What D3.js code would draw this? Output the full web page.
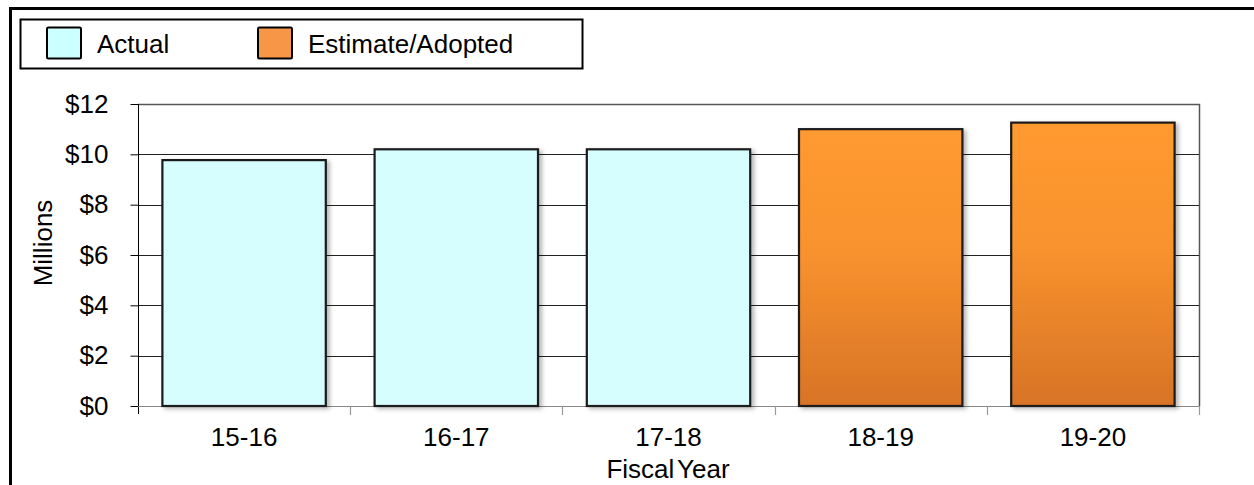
<!DOCTYPE html>
<html>
<head>
<meta charset="utf-8">
<script src="https://cdn.jsdelivr.net/npm/d3@7"></script>
<style>
  html, body { margin: 0; padding: 0; background: #fff; }
  svg { display: block; font-family: "Liberation Sans", Arial, sans-serif; }
</style>
</head>
<body>
<svg id="chart" width="1254" height="485"></svg>
<script>
// Fiscal-year totals, in millions of dollars
const years = ["15-16", "16-17", "17-18", "18-19", "19-20"];
const amounts = [9.77, 10.2, 10.2, 11.0, 11.26];
const kinds = ["Actual", "Actual", "Actual", "Estimate", "Estimate"];
const yTicks = [0, 2, 4, 6, 8, 10, 12];
const legendLabels = ["Actual", "Estimate/Adopted"];

const FONT = 26;
const svg = d3.select("#chart");
const W = 1254, H = 485;
const plot = { left: 138, right: 1199, top: 104, bottom: 406 };

const defs = svg.append("defs");
const grad = defs.append("linearGradient")
  .attr("id", "orangeFill").attr("x1", 0).attr("y1", 0).attr("x2", 0).attr("y2", 1);
grad.append("stop").attr("offset", "0%").attr("stop-color", "#FF9A30");
grad.append("stop").attr("offset", "45%").attr("stop-color", "#F8922E");
grad.append("stop").attr("offset", "100%").attr("stop-color", "#D77326");

const shadow = defs.append("filter").attr("id", "barShadow")
  .attr("x", "-10%").attr("y", "-10%").attr("width", "130%").attr("height", "130%");
shadow.append("feDropShadow").attr("dx", 3).attr("dy", 2).attr("stdDeviation", 2)
  .attr("flood-color", "#000").attr("flood-opacity", 0.28);

// Outer frame (top and left edges)
svg.append("line").attr("x1", 9).attr("x2", W).attr("y1", 8.5).attr("y2", 8.5)
  .attr("stroke", "#000").attr("stroke-width", 3);
svg.append("line").attr("x1", 10.5).attr("x2", 10.5).attr("y1", 7).attr("y2", H)
  .attr("stroke", "#000").attr("stroke-width", 3);

const x = d3.scaleBand().domain(years).range([plot.left, plot.right]).paddingInner(0.23).paddingOuter(0.115);
const y = d3.scaleLinear().domain([0, 12]).range([plot.bottom, plot.top]);

// Plot border (top/right)
svg.append("path")
  .attr("d", `M${plot.left},${plot.top + 0.5}H${plot.right + 0.5}V${plot.bottom}`)
  .attr("fill", "none").attr("stroke", "#555").attr("stroke-width", 1.5);

// Horizontal gridlines
svg.append("g").selectAll("line").data(yTicks.filter(d => d > 0 && d < 12)).join("line")
  .attr("x1", plot.left).attr("x2", plot.right)
  .attr("y1", d => Math.round(y(d)) + 0.5).attr("y2", d => Math.round(y(d)) + 0.5)
  .attr("stroke", "#222").attr("stroke-width", 1);

// Y axis
const yAxis = svg.append("g").attr("transform", `translate(${plot.left + 0.5},0)`)
  .call(d3.axisLeft(y).tickValues(yTicks).tickSize(8).tickPadding(22).tickFormat(d => "$" + d));
yAxis.select(".domain").attr("stroke", "#000").attr("d", `M0,${plot.top}V${plot.bottom + 8}`);
yAxis.selectAll(".tick line").attr("stroke", "#000");
yAxis.selectAll(".tick text").attr("font-size", FONT).attr("fill", "#000")
  .attr("font-family", "Liberation Sans, Arial, sans-serif");

// X axis with ticks at band boundaries
const bounds = years.map((d, i) => plot.left + i * (plot.right - plot.left) / years.length)
  .concat([plot.right]);
svg.append("line").attr("x1", plot.left).attr("x2", plot.right + 0.5)
  .attr("y1", plot.bottom + 0.5).attr("y2", plot.bottom + 0.5)
  .attr("stroke", "#888").attr("stroke-width", 1.2);
svg.append("g").selectAll("line").data(bounds.slice(1)).join("line")
  .attr("x1", d => Math.round(d) + 0.5).attr("x2", d => Math.round(d) + 0.5)
  .attr("y1", plot.bottom).attr("y2", plot.bottom + 9)
  .attr("stroke", "#999").attr("stroke-width", 1.2);

svg.append("g").selectAll("text").data(years).join("text")
  .attr("x", d => x(d) + x.bandwidth() / 2).attr("y", 446)
  .attr("text-anchor", "middle").attr("font-size", FONT).attr("fill", "#000")
  .text(d => d);

// Bars
svg.append("g").selectAll("rect").data(years).join("rect")
  .attr("x", d => x(d))
  .attr("y", (d, i) => y(amounts[i]))
  .attr("width", x.bandwidth())
  .attr("height", (d, i) => y(0) - y(amounts[i]))
  .attr("fill", (d, i) => kinds[i] === "Actual" ? "#D6FEFE" : "url(#orangeFill)")
  .attr("stroke", "#1a1a1a").attr("stroke-width", 2.2)
  .attr("filter", "url(#barShadow)");

// Axis titles
svg.append("text").attr("x", 668).attr("y", 478)
  .attr("text-anchor", "middle").attr("font-size", FONT).attr("fill", "#000")
  .attr("word-spacing", -4)
  .text("Fiscal Year");
svg.append("text").attr("transform", "translate(52,243) rotate(-90)")
  .attr("text-anchor", "middle").attr("font-size", FONT).attr("fill", "#000")
  .text("Millions");

// Legend
const legend = svg.append("g");
legend.append("rect").attr("x", 20.5).attr("y", 19.5).attr("width", 562).attr("height", 49)
  .attr("fill", "#fff").attr("stroke", "#000").attr("stroke-width", 2);
const legendFill = ["#CCFFFF", "#F79646"];
const legendX = [47, 258];
legendLabels.forEach((lab, i) => {
  legend.append("rect").attr("x", legendX[i]).attr("y", 27.5).attr("width", 34).attr("height", 31)
    .attr("rx", 1.5).attr("fill", legendFill[i]).attr("stroke", "#000").attr("stroke-width", 2);
  legend.append("text").attr("x", legendX[i] + 50).attr("y", 53)
    .attr("font-size", FONT).attr("fill", "#000").text(lab);
});
</script>
</body>
</html>
